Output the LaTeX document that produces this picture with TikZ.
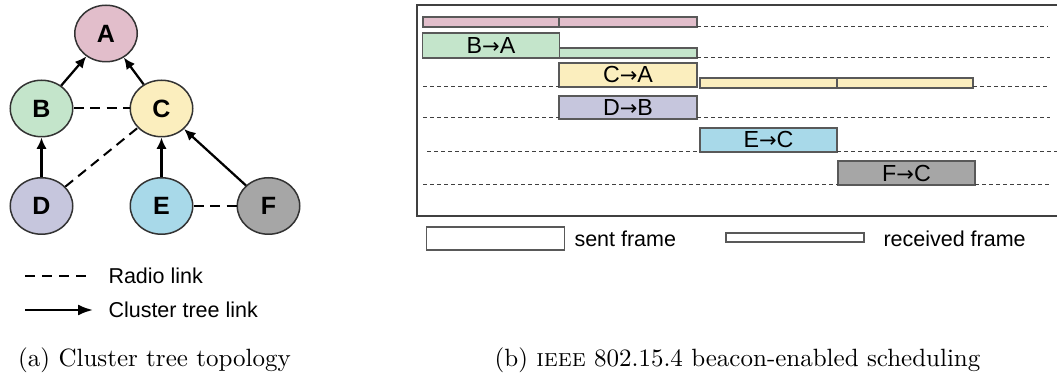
\documentclass[tikz,border=0pt]{standalone}
\usepackage{fontspec}
\newfontfamily\arial{Liberation Sans}
\newfontfamily\dejavu{DejaVu Sans}
\usepackage{tikz}
\usetikzlibrary{shapes.geometric}
\usetikzlibrary{arrows.meta}

\definecolor{colA}{RGB}{226,190,203}
\definecolor{colB}{RGB}{196,229,203}
\definecolor{colC}{RGB}{251,238,190}
\definecolor{colD}{RGB}{198,198,221}
\definecolor{colE}{RGB}{168,217,233}
\definecolor{colF}{RGB}{166,166,166}

\newcommand{\txto}{{\dejavu\fontsize{8.4}{10}\selectfont →}}

\begin{document}
\begin{tikzpicture}[x=0.4pt,y=-0.4pt,
    station/.style={ellipse,draw=black!80,line width=0.6pt,minimum width=25pt,minimum height=22.6pt,inner sep=0pt,font=\arial\fontsize{10}{12}\selectfont\bfseries},
    radio/.style={dash pattern=on 4pt off 2.6pt,line width=0.8pt},
    tree/.style={-{Latex[length=4.6pt,width=4.2pt]},line width=0.9pt},
    slot/.style={dash pattern=on 1.6pt off 1.2pt,line width=0.4pt,black!75},
    sentbox/.style={rectangle,draw=black!65,line width=0.5pt,minimum width=54.8pt,minimum height=9.6pt,inner sep=0pt,font=\arial\fontsize{9.3}{10}\selectfont},
    recvbar/.style={draw=black!65,line width=0.5pt},
    legendtext/.style={anchor=west,inner sep=0pt,font=\arial\fontsize{8.6}{10}\selectfont}]

    \useasboundingbox (0,0) rectangle (1057,378);

    % (a) topology
    \node[station,fill=colA]         (A) at (106, 33.5)          {A};
    \node[station,fill=colB]         (B) at (41.5, 108.5)        {B};
    \node[station,fill=colC]         (C) at (161.5, 108.5)       {C};
    \node[station,fill=colD]         (D) at (41.5, 206)          {D};
    \node[station,fill=colE]         (E) at (161.5, 206)         {E};
    \node[station,fill=colF]         (F) at (268.5, 206)         {F};

    \draw[tree] (B) -- (A);
    \draw[tree] (C) -- (A);
    \draw[tree] (D) -- (B);
    \draw[tree] (E) -- (C);
    \draw[tree] (F) -- (C);
    \draw[radio] (B) -- (C);
    \draw[radio] (D) -- (C);
    \draw[radio] (E) -- (F);

    \coordinate (rl0) at (25, 276);
    \coordinate (rl1) at (90, 276);
    \coordinate (tl0) at (25, 310);
    \coordinate (tl1) at (93, 310);
    \draw[dash pattern=on 4pt off 2.8pt,line width=0.8pt] (rl0) -- (rl1);
    \draw[-{Latex[length=6pt,width=4.4pt]},line width=0.9pt] (tl0) -- (tl1);
    \node[legendtext] (radiolbl) at (108, 276) {Radio link};
    \node[legendtext] (treelbl)  at (108, 310) {Cluster tree link};

    \node[anchor=base] (capa) at (154.5, 366) {(a) Cluster tree topology};

    % (b) schedule
    \draw[black!75,line width=0.6pt] (1062,5) -- (417,5) -- (417,216) -- (1062,216);

    \draw[recvbar,fill=colA] (423,17) rectangle (559,27);
    \draw[recvbar,fill=colA] (559,17) rectangle (697,27);
    \draw[recvbar,fill=colB] (559,48) rectangle (697,58);
    \draw[recvbar,fill=colC] (700,78) rectangle (837,88);
    \draw[recvbar,fill=colC] (837,78) rectangle (973,88);

    \node[sentbox,fill=colB,minimum height=10pt] (BA) at (491, 45.5)  {B\txto A};
    \node[sentbox,fill=colC,minimum width=55.2pt] (CA) at (628, 75)   {C\txto A};
    \node[sentbox,fill=colD,minimum width=55.2pt,minimum height=9.2pt] (DB) at (628, 107.5) {D\txto B};
    \node[sentbox,fill=colE] (EC) at (768.5, 140) {E\txto C};
    \node[sentbox,fill=colF] (FC) at (906.5, 173) {F\txto C};

    \draw[slot] (697,27) -- (1048,27);
    \draw[slot] (697,58) -- (1050,58);
    \draw[slot] (423,87) -- (559,87);
    \draw[slot] (973,87) -- (1050,87);
    \draw[slot] (423,118) -- (559,118);
    \draw[slot] (697,118) -- (1050,118);
    \draw[slot] (427,152) -- (700,152);
    \draw[slot] (837,152) -- (1057,152);
    \draw[slot] (423,185) -- (838,185);
    \draw[slot] (975,185) -- (1050,185);

    \node[sentbox,fill=white,minimum width=55pt,minimum height=9.2pt] (sentkey) at (495.5, 238.5) {};
    \node[legendtext] (sentlbl) at (574, 238.5) {sent frame};
    \node[sentbox,fill=white,minimum width=55.2pt,minimum height=3.6pt] (recvkey) at (795, 237.5) {};
    \node[legendtext] (recvlbl) at (883, 238.5) {received frame};

    \node[anchor=base] (capb) at (737.5, 366) {(b) \textsc{ieee} 802.15.4 beacon-enabled scheduling};
  \end{tikzpicture}
\end{document}
